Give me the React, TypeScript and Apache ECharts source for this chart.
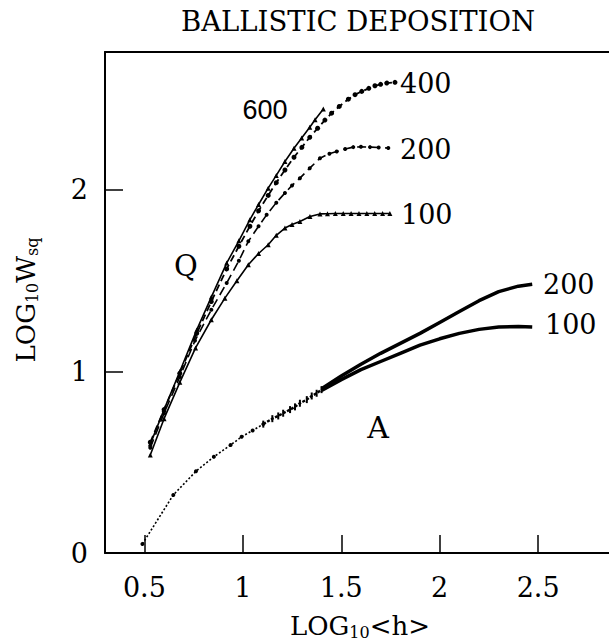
import React, { useEffect, useRef } from "react";
import * as echarts from "echarts";

// ---- data ----
const xTicks = [0.5, 1, 1.5, 2, 2.5];
const yTicks = [0, 1, 2];

// curve A: early sparse part, dense middle part, then the 100 and 200 branches
const aEarlyX = [0.49, 0.647, 0.762, 0.853, 0.938, 0.994, 1.05, 1.104];
const aEarlyY = [0.05, 0.32, 0.45, 0.53, 0.595, 0.64, 0.675, 0.71];
const aMidX = [1.104, 1.15, 1.18, 1.205, 1.24, 1.265, 1.29, 1.325, 1.35, 1.375, 1.4];
const aMidY = [0.71, 0.74, 0.755, 0.77, 0.79, 0.805, 0.825, 0.845, 0.865, 0.88, 0.9];
const aBranchX = [1.4, 1.5, 1.6, 1.7, 1.8, 1.9, 2.0, 2.1, 2.2, 2.3, 2.4, 2.47];
const a200Y = [0.905, 0.975, 1.04, 1.1, 1.155, 1.21, 1.27, 1.33, 1.39, 1.44, 1.47, 1.48];
const a100Y = [0.895, 0.955, 1.01, 1.055, 1.1, 1.145, 1.18, 1.21, 1.232, 1.245, 1.248, 1.245];

// curves Q
const q600X = [0.53, 0.6, 0.68, 0.766, 0.84, 0.918, 0.98, 1.036, 1.08, 1.129, 1.17, 1.214, 1.26, 1.299, 1.34, 1.367, 1.409];
const q600Y = [0.6, 0.79, 1.0, 1.229, 1.41, 1.597, 1.72, 1.836, 1.92, 2.01, 2.08, 2.157, 2.23, 2.286, 2.345, 2.387, 2.446];

const q400X = [0.53, 0.6, 0.68, 0.766, 0.84, 0.918, 0.98, 1.036, 1.08, 1.129, 1.17, 1.214, 1.26, 1.3, 1.34, 1.38, 1.417, 1.451, 1.49, 1.536, 1.57, 1.604, 1.64, 1.671, 1.7, 1.731, 1.773];
const q400Y = [0.61, 0.79, 0.99, 1.21, 1.385, 1.565, 1.69, 1.8, 1.885, 1.97, 2.04, 2.11, 2.18, 2.235, 2.29, 2.34, 2.385, 2.423, 2.46, 2.5, 2.525, 2.543, 2.56, 2.574, 2.582, 2.589, 2.593];

const q200X = [0.53, 0.6, 0.68, 0.757, 0.84, 0.918, 0.98, 1.028, 1.08, 1.121, 1.17, 1.214, 1.25, 1.29, 1.34, 1.392, 1.44, 1.477, 1.52, 1.561, 1.6, 1.646, 1.69, 1.739];
const q200Y = [0.58, 0.77, 0.97, 1.17, 1.34, 1.487, 1.61, 1.717, 1.8, 1.863, 1.93, 1.983, 2.025, 2.065, 2.12, 2.175, 2.2, 2.212, 2.226, 2.236, 2.238, 2.236, 2.234, 2.231];

const q100X = [0.53, 0.6, 0.68, 0.76, 0.84, 0.909, 0.97, 1.028, 1.08, 1.129, 1.17, 1.214, 1.25, 1.29, 1.341, 1.392, 1.43, 1.47, 1.51, 1.55, 1.59, 1.63, 1.67, 1.71, 1.747];
const q100Y = [0.54, 0.74, 0.94, 1.13, 1.285, 1.404, 1.5, 1.588, 1.65, 1.698, 1.75, 1.79, 1.81, 1.826, 1.854, 1.868, 1.869, 1.87, 1.87, 1.87, 1.87, 1.87, 1.87, 1.87, 1.87];

const pairs = (xs: number[], ys: number[]) => xs.map((x, i) => [x, ys[i]]);

export default function App() {
  const ref = useRef<HTMLDivElement>(null);
  useEffect(() => {
    const chart = echarts.init(ref.current!, null, { renderer: "svg" });
    const serif = "DejaVu Serif";
    const black = "#000";
    const lineBase = { type: "line", silent: true, smooth: false, xAxisIndex: 0, yAxisIndex: 0 };
    const option: any = {
      animation: false,
      backgroundColor: "#fff",
      grid: { left: 105, right: 0, top: 52, bottom: 91 },
      xAxis: [
        {
          type: "value",
          min: 0.3,
          max: 2.86,
          axisLine: { show: true, onZero: false, lineStyle: { color: black, width: 2 } },
          axisTick: { show: true, inside: true, length: 18, customValues: xTicks, lineStyle: { color: black, width: 1.5 } },
          axisLabel: { show: true, customValues: xTicks, margin: 21, color: black, fontFamily: serif, fontSize: 27 },
          splitLine: { show: false },
        },
        {
          type: "value",
          position: "top",
          min: 0.3,
          max: 2.86,
          axisLine: { show: true, onZero: false, lineStyle: { color: black, width: 2 } },
          axisTick: { show: false },
          axisLabel: { show: false },
          splitLine: { show: false },
        },
      ],
      yAxis: {
        type: "value",
        min: 0,
        max: 2.76,
        axisLine: { show: true, onZero: false, lineStyle: { color: black, width: 2 } },
        axisTick: { show: true, inside: true, length: 18, customValues: yTicks, lineStyle: { color: black, width: 1.5 } },
        axisLabel: { show: true, customValues: yTicks, margin: 17, color: black, fontFamily: serif, fontSize: 27 },
        splitLine: { show: false },
      },
      series: [
        {
          ...lineBase,
          name: "A early",
          data: pairs(aEarlyX, aEarlyY),
          symbol: "circle",
          symbolSize: 4,
          itemStyle: { color: black },
          lineStyle: { color: black, width: 1.6, type: [2, 2] },
        },
        {
          ...lineBase,
          name: "A mid",
          data: pairs(aMidX, aMidY),
          symbol: "rect",
          symbolSize: [2, 7],
          itemStyle: { color: black },
          lineStyle: { color: black, width: 2.4, type: [3, 1.5] },
        },
        {
          ...lineBase,
          name: "A200",
          data: pairs(aBranchX, a200Y),
          symbol: "none",
          lineStyle: { color: black, width: 3.5 },
        },
        {
          ...lineBase,
          name: "A100",
          data: pairs(aBranchX, a100Y),
          symbol: "none",
          lineStyle: { color: black, width: 3.5 },
        },
        {
          ...lineBase,
          name: "Q600",
          data: pairs(q600X, q600Y),
          symbol: "triangle",
          symbolSize: 5,
          itemStyle: { color: black },
          lineStyle: { color: black, width: 1.6 },
        },
        {
          ...lineBase,
          name: "Q400",
          data: pairs(q400X, q400Y),
          symbol: "circle",
          symbolSize: 5,
          itemStyle: { color: black },
          lineStyle: { color: black, width: 1.8, type: [7, 4] },
        },
        {
          ...lineBase,
          name: "Q200",
          data: pairs(q200X, q200Y),
          symbol: "circle",
          symbolSize: 4,
          itemStyle: { color: black },
          lineStyle: { color: black, width: 1.6, type: [9, 5] },
        },
        {
          ...lineBase,
          name: "Q100",
          data: pairs(q100X, q100Y),
          symbol: "triangle",
          symbolSize: 5,
          itemStyle: { color: black },
          lineStyle: { color: black, width: 1.6 },
        },
      ],
      graphic: [
        {
          type: "text",
          x: 358,
          y: 21,
          style: { text: "BALLISTIC DEPOSITION", fontFamily: serif, fontSize: 27.5, fill: black, align: "center", verticalAlign: "middle" },
        },
        {
          type: "text",
          x: 360,
          y: 626,
          style: {
            text: "{m|LOG}{s|10}{m|<h>}",
            align: "center",
            verticalAlign: "middle",
            rich: {
              m: { fontFamily: serif, fontSize: 26, fill: black },
              s: { fontFamily: serif, fontSize: 16, fill: black, padding: [12, 0, 0, 0] },
            },
          },
        },
        {
          type: "text",
          x: 26,
          y: 300,
          rotation: Math.PI / 2,
          style: {
            text: "{m|LOG}{s|10}{m|W}{s|sq}",
            align: "center",
            verticalAlign: "middle",
            rich: {
              m: { fontFamily: serif, fontSize: 26, fill: black },
              s: { fontFamily: serif, fontSize: 16, fill: black, padding: [12, 0, 0, 0] },
            },
          },
        },
        { type: "text", x: 265, y: 110, style: { text: "600", fontFamily: "Liberation Sans", fontSize: 27, fill: black, align: "center", verticalAlign: "middle" } },
        { type: "text", x: 400, y: 83, style: { text: "400", fontFamily: serif, fontSize: 27, fill: black, align: "left", verticalAlign: "middle" } },
        { type: "text", x: 400, y: 149, style: { text: "200", fontFamily: serif, fontSize: 27, fill: black, align: "left", verticalAlign: "middle" } },
        { type: "text", x: 401, y: 214, style: { text: "100", fontFamily: serif, fontSize: 27, fill: black, align: "left", verticalAlign: "middle" } },
        { type: "text", x: 186, y: 266, style: { text: "Q", fontFamily: serif, fontSize: 29, fill: black, align: "center", verticalAlign: "middle" } },
        { type: "text", x: 543, y: 284, style: { text: "200", fontFamily: serif, fontSize: 27, fill: black, align: "left", verticalAlign: "middle" } },
        { type: "text", x: 545, y: 324, style: { text: "100", fontFamily: serif, fontSize: 27, fill: black, align: "left", verticalAlign: "middle" } },
        { type: "text", x: 378, y: 427, style: { text: "A", fontFamily: serif, fontSize: 30, fill: black, align: "center", verticalAlign: "middle" } },
      ],
    };
    chart.setOption(option);
    return () => chart.dispose();
  }, []);
  return (
    <div
      ref={ref}
      style={{ position: "fixed", left: 0, top: 0, width: 609, height: 644, background: "#fff" }}
    />
  );
}
